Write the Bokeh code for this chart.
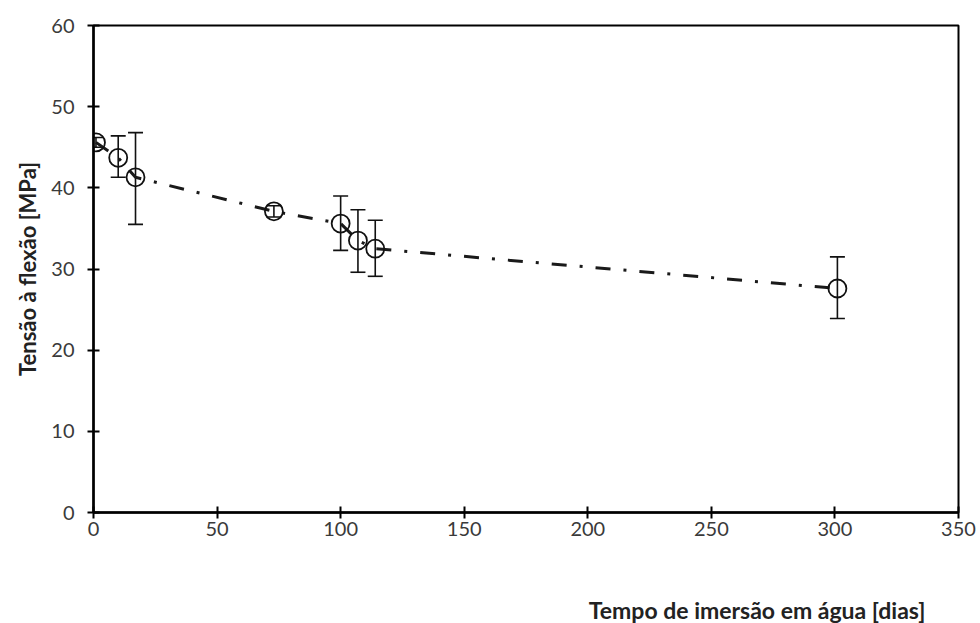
from bokeh.plotting import figure
from bokeh.models import Whisker, ColumnDataSource, Title, Range1d, FixedTicker
from bokeh.embed import file_html
from bokeh.resources import INLINE

dias = [1, 10, 17, 73, 100, 107, 114, 301]
tensao = [45.6, 43.7, 41.3, 37.1, 35.6, 33.5, 32.5, 27.6]
erro_sup = [46.2, 46.4, 46.8, 37.8, 39.0, 37.3, 36.0, 31.5]
erro_inf = [45.0, 41.3, 35.5, 36.4, 32.3, 29.6, 29.1, 23.9]
x_ticks = [0, 50, 100, 150, 200, 250, 300, 350]
y_ticks = [0, 10, 20, 30, 40, 50, 60]

src = ColumnDataSource(dict(x=dias, y=tensao, up=erro_sup, lo=erro_inf))

p = figure(width=980, height=623, output_backend="svg", toolbar_location=None,
           x_range=Range1d(0, 350), y_range=Range1d(0, 60),
           min_border_left=93, min_border_right=22, min_border_top=25, min_border_bottom=111)
p.background_fill_color = "white"
p.border_fill_color = "white"
p.outline_line_color = "black"
p.outline_line_width = 2
p.grid.visible = False

for ax in (p.xaxis, p.yaxis):
    ax.axis_line_width = 2.5
    ax.axis_line_color = "black"
    ax.major_tick_line_width = 2
    ax.major_tick_line_color = "black"
    ax.major_tick_in = 6
    ax.major_tick_out = 6
    ax.minor_tick_line_color = None
    ax.major_label_text_font = "Lato"
    ax.major_label_text_font_size = "20px"
    ax.major_label_text_color = "#3a3a3a"

p.xaxis.ticker = FixedTicker(ticks=x_ticks)
p.yaxis.ticker = FixedTicker(ticks=y_ticks)
p.xaxis.major_label_standoff = 3
p.yaxis.major_label_standoff = 13

p.yaxis.axis_label = "Tensão à flexão [MPa]"
p.yaxis.axis_label_text_font = "Lato"
p.yaxis.axis_label_text_font_style = "bold"
p.yaxis.axis_label_text_font_size = "22px"
p.yaxis.axis_label_text_color = "#222222"
p.yaxis.axis_label_standoff = 7

p.line("x", "y", source=src, line_color="#1a1a1a", line_width=3, line_dash="15 13 3 13")

w = Whisker(source=src, base="x", upper="up", lower="lo", line_color="#111111", line_width=1.6)
w.upper_head.size = 15
w.lower_head.size = 15
w.upper_head.line_width = 1.6
w.lower_head.line_width = 1.6
w.upper_head.line_color = "#111111"
w.lower_head.line_color = "#111111"
p.add_layout(w)

p.scatter("x", "y", source=src, marker="circle", size=18, fill_color=None,
          line_color="#111111", line_width=1.8)

spacer = Title(text=" ", text_font_size="27px", standoff=23, text_color="white")
p.add_layout(spacer, "below")
t = Title(text="Tempo de imersão em água [dias]", align="right",
          text_font="Lato", text_font_style="bold", text_font_size="23px",
          text_color="#222222", offset=33, standoff=0)
p.add_layout(t, "below")

open("out.html", "w").write(file_html(p, INLINE))
